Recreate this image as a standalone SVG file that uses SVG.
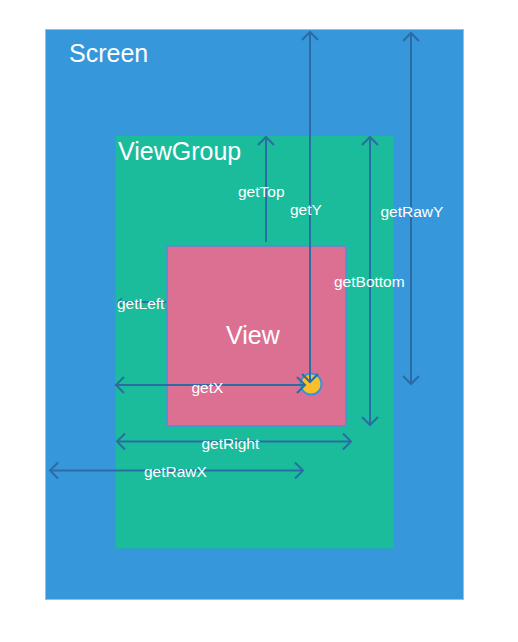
<svg xmlns="http://www.w3.org/2000/svg" width="518" height="642" viewBox="0 0 518 642">
<defs>
<style>
.lbl{font-family:"Liberation Sans",Arial,sans-serif;fill:#ffffff;font-size:15.5px}
.big{font-family:"Liberation Sans",Arial,sans-serif;fill:#ffffff;font-size:25px}
.con{stroke:#2B6CA3;stroke-width:2;fill:none}
.both{marker-start:url(#chev);marker-end:url(#chev)}
.end{marker-end:url(#chev)}
</style>
<marker id="chev" viewBox="-10 -10 20 20" refX="0" refY="0" markerWidth="20" markerHeight="20" markerUnits="userSpaceOnUse" orient="auto-start-reverse">
<path d="M-8,-8 L0,0 L-8,8" fill="none" stroke="#2B6CA3" stroke-width="2"/>
</marker>
<marker id="chevs" viewBox="-10 -10 20 20" refX="0" refY="0" markerWidth="10" markerHeight="10" markerUnits="userSpaceOnUse" orient="auto-start-reverse">
<path d="M-8,-8 L0,0 L-8,8" fill="none" stroke="#2B6CA3" stroke-width="3"/>
</marker>
</defs>
<rect width="518" height="642" fill="#ffffff"/>
<g id="screen">
<rect x="45.5" y="29.5" width="418" height="570" fill="#3697DB" stroke="#8FC2EA" stroke-width="1"/>
<text class="big" x="69" y="62">Screen</text>
</g>
<g id="viewgroup">
<rect x="115.5" y="135.5" width="278" height="413" fill="#1ABC9C"/>
<text class="big" x="118" y="160">ViewGroup</text>
</g>
<g id="view">
<rect x="167" y="246" width="179" height="180" fill="#DC7093" stroke="#4A90D2" stroke-width="1.5"/>
<text class="big" x="226" y="344">View</text>
</g>
<g id="touch">
<circle cx="311" cy="384" r="10.5" fill="#F9BF2B" stroke="#3C93D5" stroke-width="2"/>
</g>
<g id="connectors">
<line class="con end" x1="266" y1="242" x2="266" y2="137"/>
<line class="con both" x1="310" y1="382" x2="310" y2="32"/>
<line class="con both" x1="411" y1="384" x2="411" y2="33"/>
<line class="con both" x1="370" y1="137" x2="370" y2="425"/>
<line class="con" x1="118" y1="302" x2="166" y2="302" marker-start="url(#chevs)"/>
<line class="con both" x1="116" y1="385" x2="305" y2="385"/>
<line class="con both" x1="117" y1="441.5" x2="351" y2="441.5"/>
<line class="con both" x1="50" y1="470.5" x2="303" y2="470.5"/>
</g>
<g id="labels">
<text class="lbl" x="238" y="197">getTop</text>
<text class="lbl" x="290" y="215">getY</text>
<text class="lbl" x="380.5" y="217">getRawY</text>
<text class="lbl" x="334" y="287">getBottom</text>
<text class="lbl" x="117" y="309">getLeft</text>
<text class="lbl" x="191.5" y="393">getX</text>
<text class="lbl" x="201.5" y="449">getRight</text>
<text class="lbl" x="144" y="477">getRawX</text>
</g>
</svg>
